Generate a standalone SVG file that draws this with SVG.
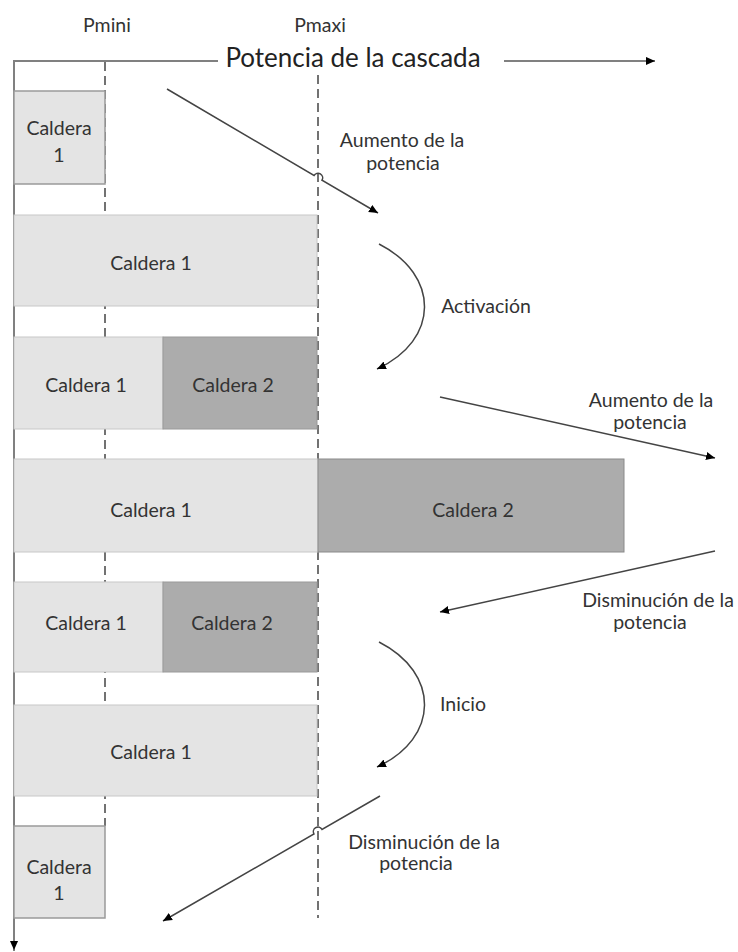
<svg xmlns="http://www.w3.org/2000/svg" width="738" height="952" viewBox="0 0 738 952">
<style>
text{font-family:Lato,"Open Sans","Liberation Sans",sans-serif;fill:#333;text-anchor:middle;font-size:19.5px}
.title{font-size:26px;fill:#222}
.light{fill:#e4e4e4;stroke:#c8c8c8;stroke-width:1}
.dark{fill:#acacac;stroke:#9a9a9a;stroke-width:1}
.small{fill:#e4e4e4;stroke:#9a9a9a;stroke-width:1.5}
.axis{stroke:#808080;stroke-width:2;fill:none}
.dash{stroke:#444;stroke-width:1.5;stroke-dasharray:9 5;fill:none}
.conn{stroke:#444;stroke-width:1.5;fill:none;marker-end:url(#ah)}
</style>
<defs>
<marker id="ah" viewBox="0 0 10 10" refX="10" refY="5" markerWidth="9" markerHeight="9" markerUnits="userSpaceOnUse" orient="auto"><path d="M0,0.5 L10,5 L0,9.5 z" fill="#000"/></marker>
<marker id="axh" viewBox="0 0 10 10" refX="10" refY="5" markerWidth="9" markerHeight="9" markerUnits="userSpaceOnUse" orient="auto"><path d="M0,0.5 L10,5 L0,9.5 z" fill="#000"/></marker>
</defs>

<g id="axes">
<path class="axis" d="M14,951 L14,61 L218,61"/>
<line x1="14" y1="900" x2="14" y2="950" stroke="#808080" stroke-width="2" marker-end="url(#axh)"/>
<line x1="504" y1="61" x2="655" y2="61" stroke="#808080" stroke-width="2" marker-end="url(#axh)"/>
<text class="title" x="353" y="67">Potencia de la cascada</text>
<text x="107" y="32">Pmini</text>
<text x="320" y="32">Pmaxi</text>
<line class="dash" x1="105" y1="62" x2="105" y2="826"/>
<line class="dash" x1="318" y1="75" x2="318" y2="918"/>
</g>

<g id="row1">
<rect class="small" x="14" y="91" width="91" height="93"/>
<text x="59" y="135">Caldera</text>
<text x="59" y="162">1</text>
</g>

<g id="row2">
<rect class="light" x="14" y="215" width="303" height="91"/>
<text x="151" y="270">Caldera 1</text>
</g>

<g id="row3">
<rect class="light" x="14" y="337" width="149" height="92"/>
<rect class="dark" x="163" y="337" width="154" height="92"/>
<text x="86" y="392">Caldera 1</text>
<text x="233" y="392">Caldera 2</text>
</g>

<g id="row4">
<rect class="light" x="14" y="459" width="304" height="93"/>
<rect class="dark" x="318" y="459" width="306" height="93" style="stroke:#8a8a8a"/>
<text x="151" y="517">Caldera 1</text>
<text x="473" y="517">Caldera 2</text>
</g>

<g id="row5">
<rect class="light" x="14" y="582" width="149" height="90"/>
<rect class="dark" x="163" y="582" width="154" height="90"/>
<text x="86" y="630">Caldera 1</text>
<text x="232" y="630">Caldera 2</text>
</g>

<g id="row6">
<rect class="light" x="14" y="705" width="303" height="91"/>
<text x="151" y="759">Caldera 1</text>
</g>

<g id="row7">
<rect class="small" x="14" y="826" width="91" height="92"/>
<text x="59" y="874">Caldera</text>
<text x="59" y="900">1</text>
</g>

<g id="connectors">
<path class="conn" d="M167,89 L314,175.5 A4.5,4.5 0 0 1 322,180.2 L378,213"/>
<path class="conn" d="M379,244 C440,275 440,340 377,369"/>
<path class="conn" d="M440,397 L715,458"/>
<path class="conn" d="M715,551 L440,612"/>
<path class="conn" d="M379,642 C440,673 440,738 377,767"/>
<path class="conn" d="M380,796 L322,829.4 A4.5,4.5 0 0 0 314,834 L163,921"/>
</g>

<g id="labels">
<text x="402" y="147">Aumento de la</text>
<text x="403" y="170">potencia</text>
<text x="486" y="313">Activación</text>
<text x="651" y="407">Aumento de la</text>
<text x="650" y="429">potencia</text>
<text x="658" y="607">Disminución de la</text>
<text x="650" y="629">potencia</text>
<text x="463" y="711">Inicio</text>
<text x="424" y="849">Disminución de la</text>
<text x="416" y="870">potencia</text>
</g>
</svg>
